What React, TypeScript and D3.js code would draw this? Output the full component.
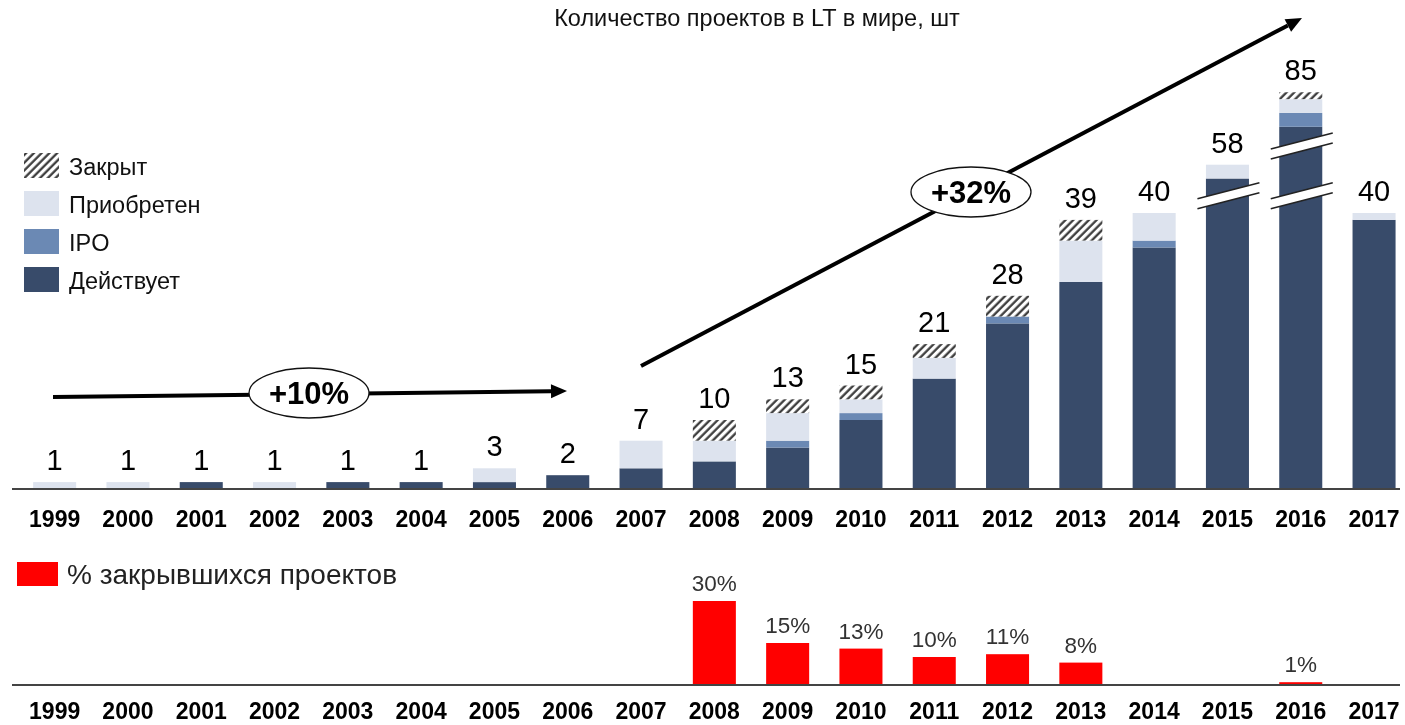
import React from 'react'
import * as d3 from 'd3'

const years = ['1999', '2000', '2001', '2002', '2003', '2004', '2005', '2006', '2007', '2008', '2009', '2010', '2011', '2012', '2013', '2014', '2015', '2016', '2017']
const totals = [1, 1, 1, 1, 1, 1, 3, 2, 7, 10, 13, 15, 21, 28, 39, 40, 58, 85, 40]
const active = [0, 0, 1, 0, 1, 1, 1, 2, 3, 4, 6, 10, 16, 24, 30, 35, 56, 80, 39]
const ipo = [0, 0, 0, 0, 0, 0, 0, 0, 0, 0, 1, 1, 0, 1, 0, 1, 0, 2, 0]
const acquired = [1, 1, 0, 1, 0, 0, 2, 0, 4, 3, 4, 2, 3, 0, 6, 4, 2, 2, 1]
const closed = [0, 0, 0, 0, 0, 0, 0, 0, 0, 3, 2, 2, 2, 3, 3, 0, 0, 1, 0]
// units cut out of the bar by the axis break
const hidden = [0, 0, 0, 0, 0, 0, 0, 0, 0, 0, 0, 0, 0, 0, 0, 0, 11, 27.5, 0]
// break positions (in displayed units)
const breaks: { year: string; at: number }[] = [
  { year: '2015', at: 42.5 },
  { year: '2016', at: 49.7 },
  { year: '2016', at: 42.5 },
]
const closedPct: (number | null)[] = [null, null, null, null, null, null, null, null, null, 30, 15, 13, 10, 11, 8, null, null, 1, null]

const seriesNames = ['Действует', 'IPO', 'Приобретен', 'Закрыт']
const seriesColors = ['#384b6a', '#6b89b4', '#dde3ee', 'url(#hatch)']

const FONT = 'Liberation Sans, Arial, sans-serif'

const App = () => {
  const x = d3
    .scaleBand()
    .domain(years)
    .range([18, 18 + 19 * 73.3])
    .paddingInner(0.413)
    .paddingOuter(0.2065)
  const y = d3.scaleLinear().domain([0, 60]).range([489, 489 - 60 * 6.9])
  const yPct = d3.scaleLinear().domain([0, 30]).range([685, 601])
  const bw = x.bandwidth()

  const rows = years.map((yr, i) => ({
    year: yr,
    active: active[i] - hidden[i],
    ipo: ipo[i],
    acquired: acquired[i],
    closed: closed[i],
  }))
  const stack = d3.stack<any>().keys(['active', 'ipo', 'acquired', 'closed'])(rows)

  const arrowHead = (x1: number, y1: number, x2: number, y2: number) => {
    const a = Math.atan2(y2 - y1, x2 - x1)
    const len = 16
    const hw = 7
    const bx = x2 - len * Math.cos(a)
    const by = y2 - len * Math.sin(a)
    const p = d3.path()
    p.moveTo(x2, y2)
    p.lineTo(bx + hw * Math.sin(a), by - hw * Math.cos(a))
    p.lineTo(bx - hw * Math.sin(a), by + hw * Math.cos(a))
    p.closePath()
    return { d: p.toString(), bx, by }
  }
  const arrows = [
    { x1: 53, y1: 397, x2: 567, y2: 391, label: '+10%', cx: 309, cy: 393 },
    { x1: 641, y1: 366, x2: 1302, y2: 18, label: '+32%', cx: 971, cy: 192 },
  ]

  return (
    <svg
      width={1405}
      height={725}
      style={{ display: 'block', position: 'fixed', left: 0, top: 0, fontFamily: FONT }}
    >
      <defs>
        <pattern id="hatch" patternUnits="userSpaceOnUse" width={5.5} height={5.5} patternTransform="rotate(45)">
          <rect width={5.5} height={5.5} fill="#fff" />
          <line x1={1.5} y1={0} x2={1.5} y2={5.5} stroke="#333" strokeWidth={2.2} />
        </pattern>
      </defs>

      <text x={757} y={26} textAnchor="middle" fontSize={23.5} fill="#111">
        Количество проектов в LT в мире, шт
      </text>

      {/* legend */}
      {seriesNames
        .slice()
        .reverse()
        .map((name, i) => {
          const color = seriesColors[seriesColors.length - 1 - i]
          return (
            <g key={name} transform={`translate(24, ${153 + i * 38})`}>
              <rect width={35} height={25} fill={color} />
              <text x={45} y={21.5} fontSize={23.5} fill="#111">
                {name}
              </text>
            </g>
          )
        })}

      {/* stacked bars */}
      {stack.map((s, si) => (
        <g key={si} fill={seriesColors[si]}>
          {s.map((d, i) =>
            d[1] - d[0] > 0 ? (
              <rect key={i} x={x(years[i])} y={y(d[1])} width={bw} height={y(d[0]) - y(d[1])} />
            ) : null
          )}
        </g>
      ))}

      {/* axis breaks */}
      {breaks.map((b, i) => {
        const cx = (x(b.year) as number) + bw / 2
        const cy = y(b.at)
        const l = cx - 30
        const r = cx + 32
        return (
          <g key={i}>
            <polygon points={`${l},${cy + 3} ${r},${cy - 13} ${r},${cy - 3} ${l},${cy + 13}`} fill="#fff" />
            <line x1={l} y1={cy + 3} x2={r} y2={cy - 13} stroke="#222" strokeWidth={1.6} />
            <line x1={l} y1={cy + 13} x2={r} y2={cy - 3} stroke="#222" strokeWidth={1.6} />
          </g>
        )
      })}

      {/* totals */}
      {years.map((yr, i) => (
        <text key={yr} x={(x(yr) as number) + bw / 2} y={y(totals[i] - hidden[i]) - 12} textAnchor="middle" fontSize={29} fill="#000">
          {totals[i]}
        </text>
      ))}

      <line x1={12} x2={1400} y1={489} y2={489} stroke="#444" strokeWidth={2} />
      {years.map((yr) => (
        <text key={yr} x={(x(yr) as number) + bw / 2} y={527} textAnchor="middle" fontSize={23} fontWeight="bold" fill="#000">
          {yr}
        </text>
      ))}

      {/* growth arrows */}
      {arrows.map((a) => {
        const h = arrowHead(a.x1, a.y1, a.x2, a.y2)
        return (
          <g key={a.label}>
            <line x1={a.x1} y1={a.y1} x2={h.bx} y2={h.by} stroke="#000" strokeWidth={4} />
            <path d={h.d} fill="#000" />
            <ellipse cx={a.cx} cy={a.cy} rx={60} ry={25} fill="#fff" stroke="#111" strokeWidth={1.3} />
            <text x={a.cx} y={a.cy + 11} textAnchor="middle" fontSize={31} fontWeight="bold" fill="#000">
              {a.label}
            </text>
          </g>
        )
      })}

      {/* closed percentage */}
      <rect x={17} y={562} width={41} height={24} fill="#ff0000" />
      <text x={67} y={584} fontSize={28} fill="#222">
        % закрывшихся проектов
      </text>
      {years.map((yr, i) =>
        closedPct[i] != null ? (
          <g key={yr}>
            <rect x={x(yr)} y={yPct(closedPct[i] as number)} width={bw} height={yPct(0) - yPct(closedPct[i] as number)} fill="#ff0000" />
            <text x={(x(yr) as number) + bw / 2} y={yPct(closedPct[i] as number) - 10} textAnchor="middle" fontSize={22.5} fill="#333">
              {closedPct[i]}%
            </text>
          </g>
        ) : null
      )}
      <line x1={12} x2={1400} y1={685} y2={685} stroke="#444" strokeWidth={2} />
      {years.map((yr) => (
        <text key={yr} x={(x(yr) as number) + bw / 2} y={719} textAnchor="middle" fontSize={23} fontWeight="bold" fill="#000">
          {yr}
        </text>
      ))}
    </svg>
  )
}

export default App
